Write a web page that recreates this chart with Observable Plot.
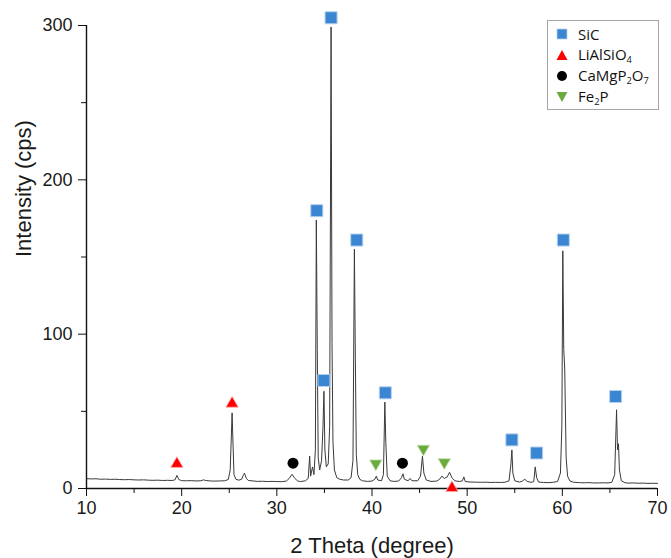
<!DOCTYPE html>
<html>
<head>
<meta charset="utf-8">
<script src="https://cdn.jsdelivr.net/npm/d3@7"></script>
<script src="https://cdn.jsdelivr.net/npm/@observablehq/plot@0.6"></script>
<style>
  body { margin: 0; background: #fff; }
  #wrap { position: relative; width: 671px; height: 558px; overflow: hidden; }
  #legend { position: absolute; left: 547px; top: 20px; width: 112px; height: 90px; border: 1.5px solid #a6a6a6; background: #fff; box-sizing: border-box; font-family: "Open Sans", sans-serif; font-size: 15px; color: #111; }
  .row { position: absolute; left: 0; height: 20px; display: flex; align-items: center; }
  .row svg { position: absolute; left: 8px; }
  .row span.t { position: absolute; left: 30px; white-space: nowrap; line-height: 20px; }
  .s { font-size: 0.62em; position: relative; top: 0.35em; }
</style>
</head>
<body>
<div id="wrap"></div>
<script>
// ---- Data ----
const twoTheta = [
  10.0, 10.5, 11.0, 11.5, 12.0, 12.5, 13.0, 13.5, 14.0, 14.5,
  15.0, 15.5, 16.0, 16.5, 17.0, 17.5, 18.0, 18.5, 19.0, 19.3,
  19.5, 19.7, 20.0, 20.5, 21.0, 21.5, 22.0, 22.3, 22.5, 23.0,
  23.5, 24.0, 24.5, 24.9, 25.1, 25.2, 25.3, 25.4, 25.5, 25.7,
  26.0, 26.3, 26.5, 26.6, 26.8, 27.0, 27.5, 28.0, 28.5, 29.0,
  29.5, 30.0, 30.5, 31.0, 31.3, 31.6, 31.9, 32.2, 32.5, 33.0,
  33.3, 33.45, 33.55, 33.75, 33.9, 34.05, 34.15, 34.25, 34.35, 34.5,
  34.7, 34.85, 34.95, 35.05, 35.2, 35.4, 35.55, 35.7, 35.8, 35.9,
  36.05, 36.3, 36.6, 37.0, 37.5, 37.8, 38.0, 38.15, 38.25, 38.35,
  38.5, 38.7, 39.0, 39.5, 40.0, 40.3, 40.45, 40.6, 41.0, 41.2,
  41.35, 41.45, 41.6, 41.9, 42.3, 42.8, 43.1, 43.25, 43.4, 43.8,
  44.0, 44.2, 44.8, 45.1, 45.3, 45.45, 45.7, 46.2, 46.8, 47.1,
  47.35, 47.6, 47.9, 48.15, 48.4, 48.7, 49.2, 49.5, 49.65, 49.8,
  50.3, 51.0, 51.5, 52.0, 52.5, 53.0, 53.5, 54.0, 54.4, 54.6,
  54.7, 54.8, 55.0, 55.5, 55.8, 56.05, 56.3, 56.7, 57.0, 57.15,
  57.3, 57.5, 58.0, 58.5, 59.0, 59.5, 59.8, 59.95, 60.05, 60.15,
  60.25, 60.4, 60.55, 60.8, 61.2, 61.8, 62.3, 62.8, 63.3, 63.8,
  64.3, 64.8, 65.2, 65.5, 65.7, 65.8, 65.9, 66.0, 66.2, 66.6,
  67.0, 67.5, 68.0, 68.5, 69.0, 69.5, 70.0
];
const intensity = [
  6.4, 6.2, 6.3, 6.0, 6.1, 5.9, 6.0, 5.8, 5.7, 5.8,
  5.6, 5.5, 5.6, 5.4, 5.3, 5.4, 5.2, 5.3, 5.2, 5.6,
  8.5, 5.8, 5.1, 5.0, 5.1, 4.9, 5.0, 5.6, 5.2, 4.9,
  4.8, 4.9, 5.0, 5.8, 12, 30, 49, 28, 9, 6.0,
  5.4, 6.0, 9, 10, 6.5, 5.2, 4.9, 4.6, 4.7, 4.5,
  4.6, 4.5, 4.4, 4.8, 6.5, 9.2, 6.5, 4.8, 4.5, 5.0,
  6.5, 21, 8, 14, 9, 25, 174, 90, 20, 12,
  18, 40, 63, 25, 14, 16, 40, 299, 94, 30,
  12, 7, 6, 5.5, 5.5, 7, 18, 155, 84, 22,
  9, 6, 5, 4.6, 4.8, 6.0, 8, 5.5, 5, 9,
  56, 30, 8, 5, 4.6, 4.8, 7, 9.5, 6, 5,
  6.5, 5, 5, 8, 21, 10, 5.5, 4.6, 4.8, 6,
  8, 6.5, 7.5, 10.5, 7, 5, 4.5, 5, 7.5, 4.5,
  4.2, 4.1, 4.0, 4.1, 3.9, 4.0, 3.9, 4.1, 5, 16,
  25, 10, 5, 4.2, 4.8, 6, 4.6, 4.0, 4.5, 14,
  7, 4.2, 3.9, 3.8, 4.0, 4.5, 10, 40, 154, 90,
  78, 20, 8, 4.8, 4.0, 3.8, 3.7, 3.8, 3.6, 3.6,
  3.7, 3.6, 4, 9, 51, 25, 29, 12, 5, 3.7,
  3.5, 3.6, 3.4, 3.5, 3.3, 3.4, 3.3
];

// phase markers
const sicX = [35.7, 34.2, 34.95, 38.4, 41.4, 54.7, 57.3, 60.1, 65.6];
const sicY = [305, 180, 70, 161, 62, 31.5, 23, 161, 59.6];
const liX = [19.5, 25.3, 48.4];
const liY = [16, 55, 0.3];
const caX = [31.7, 43.2];
const caY = [16.4, 16.4];
const feX = [40.4, 45.4, 47.6];
const feY = [16.2, 25.7, 17];

const xMajor = [10, 20, 30, 40, 50, 60, 70];
const xMinor = [15, 25, 35, 45, 55, 65];
const yMajor = [0, 100, 200, 300];
const yMinor = [50, 150, 250];

const xLabel = "2 Theta (degree)";
const yLabel = "Intensity (cps)";

// ---- Build tables ----
const spectrum = twoTheta.map((x, i) => ({x, y: intensity[i]}));
const pts = (xs, ys) => xs.map((x, i) => ({x, y: ys[i]}));

const triangleDown = {
  draw(ctx, size) {
    const s = Math.sqrt(4 * size / Math.sqrt(3));
    const h = s * Math.sqrt(3) / 2;
    ctx.moveTo(0, 2 * h / 3);
    ctx.lineTo(-s / 2, -h / 3);
    ctx.lineTo(s / 2, -h / 3);
    ctx.closePath();
  }
};

const chart = Plot.plot({
  width: 671,
  height: 558,
  marginLeft: 86,
  marginRight: 14,
  marginTop: 25,
  marginBottom: 70,
  x: {domain: [10, 70]},
  y: {domain: [0, 300]},
  style: {fontFamily: "'Liberation Sans', Arial, sans-serif", fontSize: "18px", color: "#1a1a1a", background: "white", overflow: "visible"},
  marks: [
    Plot.line(spectrum, {x: "x", y: "y", stroke: "#3a3a3a", strokeWidth: 1}),
    Plot.ruleY([0], {stroke: "#111", strokeWidth: 1.4}),
    Plot.ruleX([10], {stroke: "#111", strokeWidth: 1.4}),
    Plot.axisX({ticks: xMajor, tickSize: 8, tickPadding: 5, label: null, fontSize: 18, stroke: "#111"}),
    Plot.axisX({ticks: xMinor, tickSize: 5, tickFormat: () => "", label: null, stroke: "#111"}),
    Plot.axisY({ticks: yMajor, tickSize: 8, tickPadding: 6, label: null, fontSize: 18, stroke: "#111"}),
    Plot.axisY({ticks: yMinor, tickSize: 5, tickFormat: () => "", label: null, stroke: "#111"}),
    Plot.text([xLabel], {frameAnchor: "bottom", dy: 64, lineAnchor: "bottom", fontSize: 22, fill: "#1a1a1a"}),
    Plot.text([yLabel], {frameAnchor: "left", dx: -56, rotate: -90, lineAnchor: "bottom", fontSize: 22, fill: "#1a1a1a"}),
    Plot.dot(pts(sicX, sicY), {x: "x", y: "y", symbol: "square", r: 6.8, fill: "#3a86d2", stroke: "#b7d2ee", strokeWidth: 1}),
    Plot.dot(pts(liX, liY), {x: "x", y: "y", symbol: "triangle", r: 4.6, fill: "#ff0000", stroke: "#ffb0b0", strokeWidth: 0.8}),
    Plot.dot(pts(caX, caY), {x: "x", y: "y", symbol: "circle", r: 5.5, fill: "#000", stroke: "none"}),
    Plot.dot(pts(feX, feY), {x: "x", y: "y", symbol: triangleDown, r: 4.6, fill: "#6aaa3f", stroke: "#c5e0b3", strokeWidth: 0.8})
  ]
});

const wrap = document.getElementById("wrap");
wrap.appendChild(chart);

// ---- Legend ----
const legendItems = [
  {label: "SiC", shape: "square", color: "#3a86d2"},
  {label: "LiAlSiO<span class='s'>4</span>", shape: "triangle", color: "#ff0000"},
  {label: "CaMgP<span class='s'>2</span>O<span class='s'>7</span>", shape: "circle", color: "#000"},
  {label: "Fe<span class='s'>2</span>P", shape: "down", color: "#6aaa3f"}
];
const legend = document.createElement("div");
legend.id = "legend";
const rowTops = [3, 24, 45, 66];
legendItems.forEach((d, i) => {
  const row = document.createElement("div");
  row.className = "row";
  row.style.top = rowTops[i] + "px";
  let shape = "";
  if (d.shape === "square") shape = `<rect x="1" y="1" width="10" height="10" fill="${d.color}" stroke="#b7d2ee" stroke-width="0.8"/>`;
  if (d.shape === "triangle") shape = `<path d="M6,1 L11.5,11 L0.5,11 Z" fill="${d.color}"/>`;
  if (d.shape === "circle") shape = `<circle cx="6" cy="6" r="5" fill="${d.color}"/>`;
  if (d.shape === "down") shape = `<path d="M0.5,1 L11.5,1 L6,11 Z" fill="${d.color}"/>`;
  row.innerHTML = `<svg width="12" height="12" viewBox="0 0 12 12">${shape}</svg><span class="t">${d.label}</span>`;
  legend.appendChild(row);
});
wrap.appendChild(legend);
</script>
</body>
</html>
